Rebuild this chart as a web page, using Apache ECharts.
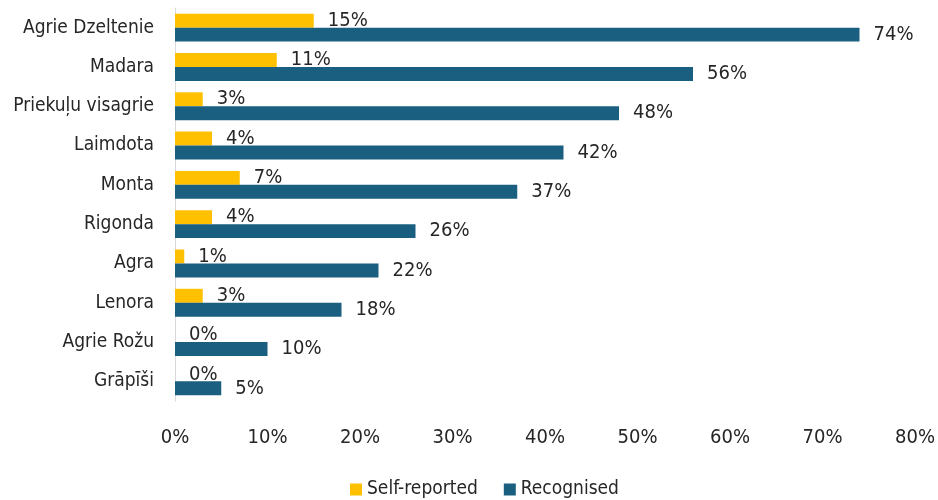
<!DOCTYPE HTML>
<html lang="en">
<head>
<meta charset="utf-8">
<title>Varieties - self-reported vs recognised</title>
<style>
html, body {
  margin: 0;
  background: #fff;
}
#chart {
  width: 938px;
  height: 500px;
}
</style>
</head>
<body>
<div id="chart"></div>
<script src="https://cdn.jsdelivr.net/npm/echarts@6/dist/echarts.min.js"></script>
<script>
// top to bottom as in the picture
var varieties = ['Agrie Dzeltenie', 'Madara', 'Priekuļu visagrie', 'Laimdota', 'Monta',
  'Rigonda', 'Agra', 'Lenora', 'Agrie Rožu', 'Grāpīši'];
var selfReported = [15, 11, 3, 4, 7, 4, 1, 3, 0, 0];
var recognised = [74, 56, 48, 42, 37, 26, 22, 18, 10, 5];
var xTicks = [0, 10, 20, 30, 40, 50, 60, 70, 80];

var font = '"Liberation Sans Narrow", "DejaVu Sans Condensed", sans-serif';
var txt = '#262626';

var chart = echarts.init(document.getElementById('chart'));
chart.setOption({
  animation: false,
  textStyle: { fontFamily: font },
  grid: { left: 175, right: 15, top: 8, bottom: 99 },
  legend: {
    bottom: -4,
    left: 345,
    itemWidth: 12,
    itemHeight: 12,
    itemGap: 26,
    icon: 'rect',
    textStyle: { fontFamily: font, fontSize: 19, color: txt },
    data: ['Self-reported', 'Recognised']
  },
  xAxis: {
    type: 'value',
    min: xTicks[0],
    max: xTicks[xTicks.length - 1],
    interval: 10,
    splitLine: { show: false },
    axisLine: { show: false },
    axisTick: { show: false },
    axisLabel: {
      margin: 27,
      fontFamily: font,
      fontSize: 20,
      color: txt,
      formatter: '{value}%'
    }
  },
  yAxis: {
    type: 'category',
    inverse: true,
    data: varieties,
    axisLine: { show: true, lineStyle: { color: '#d9d9d9' } },
    axisTick: { show: false },
    axisLabel: { margin: 21, fontFamily: font, fontSize: 19, color: txt }
  },
  series: [{
    name: 'Self-reported',
    type: 'bar',
    data: selfReported,
    barGap: '0%',
    barCategoryGap: '29%',
    itemStyle: { color: '#FFC000' },
    label: {
      show: true,
      position: 'right',
      distance: 14,
      formatter: '{c}%',
      fontFamily: font,
      fontSize: 20,
      color: txt
    }
  }, {
    name: 'Recognised',
    type: 'bar',
    data: recognised,
    itemStyle: { color: '#1A5E80' },
    label: {
      show: true,
      position: 'right',
      distance: 14,
      formatter: '{c}%',
      fontFamily: font,
      fontSize: 20,
      color: txt
    }
  }]
});
</script>
</body>
</html>
